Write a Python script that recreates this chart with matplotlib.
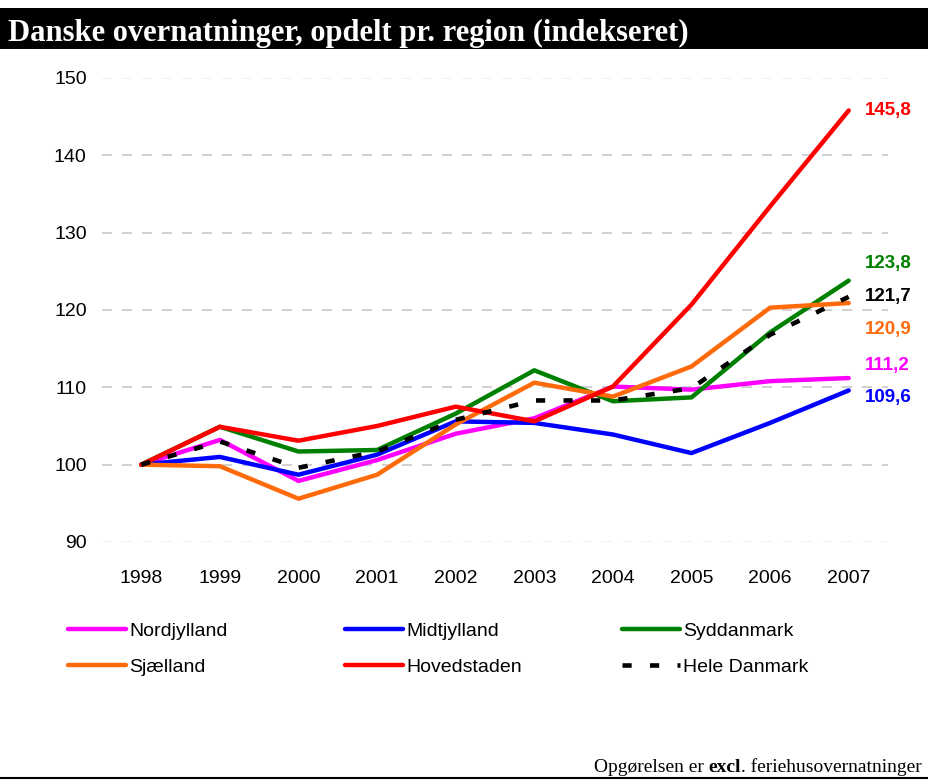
import matplotlib
matplotlib.use("Agg")
import matplotlib.pyplot as plt
from matplotlib.lines import Line2D
from matplotlib.patches import Rectangle

# data (index, 1998 = 100)
years = [1998, 1999, 2000, 2001, 2002, 2003, 2004, 2005, 2006, 2007]
nordjylland = [100, 103.2, 97.9, 100.6, 104.0, 106.0, 110.1, 109.7, 110.8, 111.2]
midtjylland = [100, 101.0, 98.7, 101.3, 105.6, 105.4, 103.9, 101.5, 105.4, 109.6]
syddanmark = [100, 104.9, 101.7, 101.9, 106.6, 112.2, 108.2, 108.7, 117.1, 123.8]
sjaelland = [100, 99.8, 95.6, 98.7, 105.2, 110.6, 108.8, 112.7, 120.3, 120.9]
hovedstaden = [100, 104.9, 103.1, 105.0, 107.5, 105.6, 110.1, 120.7, 133.4, 145.8]
hele_danmark = [100, 103.0, 99.6, 101.7, 105.8, 108.3, 108.3, 109.9, 116.8, 121.7]
yticks = [90, 100, 110, 120, 130, 140, 150]

title = "Danske overnatninger, opdelt pr. region (indekseret)"

sans = ["Liberation Sans", "DejaVu Sans"]
serif = ["Liberation Serif", "DejaVu Serif"]

fig = plt.figure(figsize=(9.29, 7.8), dpi=100)
ax = fig.add_axes([102 / 929, 1 - 542 / 780, (888 - 102) / 929, (542 - 78) / 780])

series = [
    ("Nordjylland", nordjylland, "#ff00ff"),
    ("Midtjylland", midtjylland, "#0000ff"),
    ("Syddanmark", syddanmark, "#008000"),
    ("Sjælland", sjaelland, "#ff6a0a"),
    ("Hovedstaden", hovedstaden, "#ff0000"),
]
handles = {}
for name, vals, col in series:
    h, = ax.plot(years, vals, color=col, lw=3.2, solid_capstyle="round", label=name)
    handles[name] = h
h, = ax.plot(years, hele_danmark, color="black", lw=3.3, dashes=(2.0, 4.0),
             dash_capstyle="butt", label="Hele Danmark")
handles["Hele Danmark"] = h

# end-of-line value labels (offsets in points)
end_labels = [
    (hovedstaden, "#ff0000", 0),
    (syddanmark, "#008000", 12),
    (hele_danmark, "black", 0),
    (sjaelland, "#ff6a0a", -19),
    (nordjylland, "#ff00ff", 9),
    (midtjylland, "#0000ff", -5),
]
for vals, col, dy in end_labels:
    ax.annotate(f"{vals[-1]:.1f}".replace(".", ","), xy=(years[-1], vals[-1]),
                xytext=(12, dy), textcoords="offset points", va="center", ha="left",
                color=col, fontsize=13.5, fontweight="bold", family=sans)

ax.set_xlim(1997.5, 2007.5)
ax.set_ylim(90, 150)
ax.set_xticks(years)
ax.set_yticks(yticks)
ax.tick_params(length=0, labelsize=14)
ax.tick_params(axis="x", pad=20)
ax.tick_params(axis="y", pad=11)
for lab in ax.get_xticklabels() + ax.get_yticklabels():
    lab.set_family(sans)
for s in ax.spines.values():
    s.set_visible(False)
for y in yticks:
    c = "#c8c8c8" if 90 < y < 150 else "#ececec"
    ax.axhline(y, color=c, lw=1.2, dashes=(6, 6), zorder=0)

# legend laid out as three columns, filled row-wise
cols = [("Nordjylland", "Sjælland", 68), ("Midtjylland", "Hovedstaden", 345),
        ("Syddanmark", "Hele Danmark", 622)]
for a, b, xpx in cols:
    fig.legend([handles[a], handles[b]], [a, b], loc="center left",
               bbox_to_anchor=(xpx / 929, 1 - 649 / 780), frameon=False,
               prop={"family": sans, "size": 14}, handlelength=3.0,
               handletextpad=0.15, labelspacing=0.95, borderpad=0,
               borderaxespad=0)

# title bar
fig.patches.append(Rectangle((0, 1 - 49 / 780), 1, 41 / 780, transform=fig.transFigure,
                             facecolor="black", edgecolor="none"))
fig.text(8 / 929, 1 - 33 / 780, title, color="white", fontsize=22, fontweight="bold",
         family=serif, va="center", ha="left")

# footnote with bold "excl", then bottom rule
t1 = fig.text(594 / 929, 1 - 768 / 780, "Opgørelsen er ", fontsize=14, family=serif,
              ha="left", va="center")
t2 = ax.annotate("excl", xy=(1, 0), xycoords=t1, va="bottom", ha="left",
                 fontsize=14, family=serif, fontweight="bold", annotation_clip=False)
t3 = ax.annotate(". feriehusovernatninger", xy=(1, 0), xycoords=t2, va="bottom",
                 ha="left", fontsize=14, family=serif, annotation_clip=False)
fig.add_artist(Line2D([0, 1], [1 - 778 / 780] * 2, transform=fig.transFigure,
                      color="black", lw=1.5))

fig.savefig("out.png", dpi=100)
